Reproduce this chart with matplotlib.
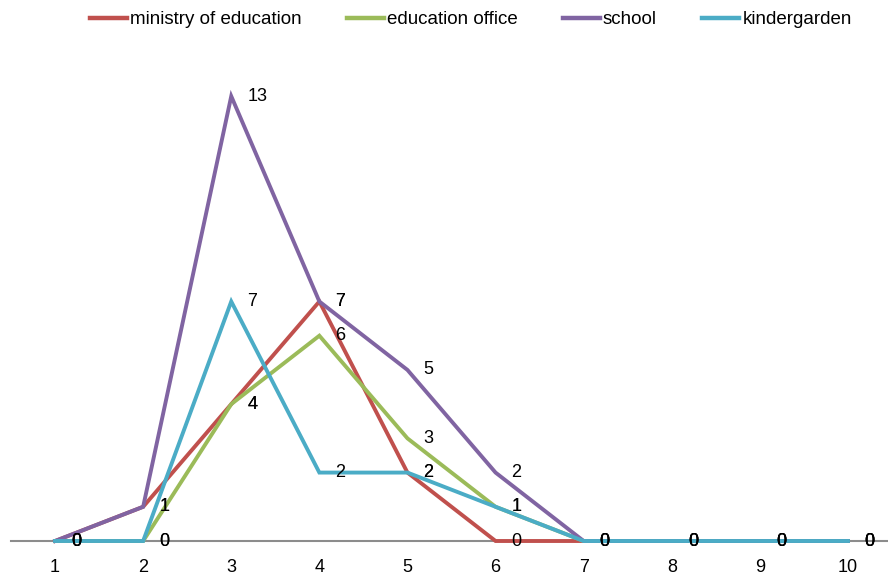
import matplotlib
matplotlib.use("Agg")
import matplotlib.pyplot as plt

plt.rcParams['font.family'] = ['Liberation Sans', 'DejaVu Sans']

categories = [1, 2, 3, 4, 5, 6, 7, 8, 9, 10]
ministry = [0, 1, 4, 7, 2, 0, 0, 0, 0, 0]
office = [0, 0, 4, 6, 3, 1, 0, 0, 0, 0]
school = [0, 1, 13, 7, 5, 2, 0, 0, 0, 0]
kinder = [0, 0, 7, 2, 2, 1, 0, 0, 0, 0]

series = [
    ("ministry of education", ministry, "#C0504D"),
    ("education office", office, "#9BBB59"),
    ("school", school, "#8064A2"),
    ("kindergarden", kinder, "#4BACC6"),
]

fig = plt.figure(figsize=(8.88, 5.78), dpi=100)
ax = fig.add_axes([11 / 888, 37 / 578, 881 / 888, 479 / 578])

for name, vals, color in series:
    ax.plot(categories, vals, color=color, lw=2.8, label=name,
            solid_joinstyle='miter', clip_on=False)
    for x, y in zip(categories, vals):
        ax.annotate(str(y), (x, y), xytext=(16, 0), textcoords='offset pixels',
                    ha='left', va='center', fontsize=13, color='black',
                    annotation_clip=False)

ax.set_xlim(0.5, 10.5)
ax.set_ylim(0, 14)
ax.set_xticks(categories)
ax.set_yticks([])
for s in ['top', 'right', 'left']:
    ax.spines[s].set_visible(False)
ax.spines['bottom'].set_color('#8C8C8C')
ax.spines['bottom'].set_linewidth(1.5)
ax.spines['bottom'].set_zorder(0)
ax.tick_params(axis='x', length=0, pad=13, labelsize=13)

fig.legend(loc='center', bbox_to_anchor=(0.53, 0.966), ncol=4, frameon=False,
           fontsize=13.5, handlelength=2.0, handletextpad=0.15, columnspacing=2.4)
for line in fig.legends[0].get_lines():
    line.set_linewidth(3.2)

fig.savefig("out.png", dpi=100)
